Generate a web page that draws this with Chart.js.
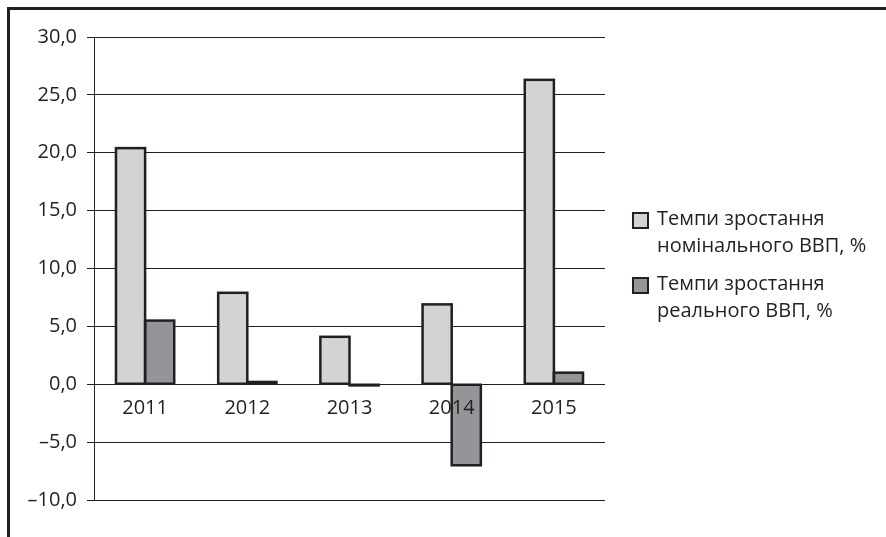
<!DOCTYPE html>
<html>
<head>
<meta charset="utf-8">
<script src="https://cdn.jsdelivr.net/npm/chart.js@4/dist/chart.umd.min.js"></script>
<style>
  html, body { margin: 0; padding: 0; background: #fff; }
  #wrap { position: relative; width: 886px; height: 537px; overflow: hidden; font-family: "Open Sans", sans-serif; color: #231f20; }
  #frame { position: absolute; left: 7px; top: 7px; width: 900px; height: 560px; border-top: 3px solid #231f20; border-left: 3px solid #231f20; box-sizing: border-box; }
  canvas { position: absolute; left: 0; top: 0; }
  .lg { position: absolute; left: 632px; font-size: 20px; line-height: 26.5px; }
  .lg .box { position: absolute; left: 0; top: 7px; width: 17px; height: 17px; box-sizing: border-box; border: 2.5px solid #231f20; }
  .lg .txt { position: absolute; left: 25px; top: 0; white-space: nowrap; }
</style>
</head>
<body>
<div id="wrap">
  <canvas id="c" width="886" height="537"></canvas>
  <div id="frame"></div>
  <div id="legend"></div>
</div>
<script>
const categories = ['2011', '2012', '2013', '2014', '2015'];
const nominalGrowth = [20.4, 7.9, 4.1, 6.9, 26.3];
const realGrowth = [5.5, 0.2, -0.1, -7.0, 1.0];
const seriesLabels = [
  ['Темпи зростання', 'номінального ВВП, %'],
  ['Темпи зростання', 'реального ВВП, %']
];
const yTickLabels = ['–10,0', '–5,0', '0,0', '5,0', '10,0', '15,0', '20,0', '25,0', '30,0'];

const ink = '#231f20';
const fills = ['#d1d3d4', '#939598'];
const font = { family: '"Open Sans", sans-serif', size: 20 };

// HTML legend (multi-line labels)
const legendTops = [205, 270];
const legendEl = document.getElementById('legend');
seriesLabels.forEach((lines, i) => {
  const d = document.createElement('div');
  d.className = 'lg';
  d.style.top = legendTops[i] + 'px';
  const b = document.createElement('div');
  b.className = 'box';
  b.style.background = fills[i];
  const t = document.createElement('div');
  t.className = 'txt';
  t.innerHTML = lines.join('<br>');
  d.appendChild(b); d.appendChild(t);
  legendEl.appendChild(d);
});

// Excel-style outline: stroke centred on each bar's edge (so even tiny bars show a dark line)
const barOutline = {
  id: 'barOutline',
  afterDatasetsDraw(chart) {
    const ctx = chart.ctx;
    ctx.save();
    ctx.strokeStyle = ink;
    ctx.lineWidth = 2.5;
    ctx.lineJoin = 'miter';
    chart.data.datasets.forEach((ds, di) => {
      chart.getDatasetMeta(di).data.forEach((bar) => {
        const p = bar.getProps(['x', 'y', 'base', 'width'], true);
        const left = p.x - p.width / 2;
        const top = Math.min(p.y, p.base);
        const h = Math.abs(p.base - p.y);
        ctx.strokeRect(left, top, p.width, h);
      });
    });
    ctx.restore();
  }
};

new Chart(document.getElementById('c'), {
  type: 'bar',
  data: {
    labels: categories,
    datasets: [
      { label: seriesLabels[0].join(' '), data: nominalGrowth, backgroundColor: fills[0], borderWidth: 0 },
      { label: seriesLabels[1].join(' '), data: realGrowth, backgroundColor: fills[1], borderWidth: 0 }
    ]
  },
  plugins: [barOutline],
  options: {
    responsive: false,
    animation: false,
    devicePixelRatio: 1,
    layout: { padding: { top: 37, bottom: 37, left: 0, right: 281 } },
    plugins: { legend: { display: false }, tooltip: { enabled: false } },
    datasets: { bar: { categoryPercentage: 0.57, barPercentage: 1.0 } },
    scales: {
      x: {
        position: { y: 0 },
        grid: { display: false, drawTicks: false },
        border: { display: false },
        ticks: { z: 1, color: ink, font: font, padding: 12, maxRotation: 0 }
      },
      y: {
        min: -10, max: 30,
        afterFit: (s) => { s.width = 94; },
        grid: { color: ink, lineWidth: 1, tickLength: 7, tickColor: ink },
        border: { display: true, color: ink, width: 1 },
        ticks: {
          stepSize: 5, color: ink, font: font, padding: 10,
          callback: (v, i) => yTickLabels[i]
        }
      }
    }
  }
});
</script>
</body>
</html>
